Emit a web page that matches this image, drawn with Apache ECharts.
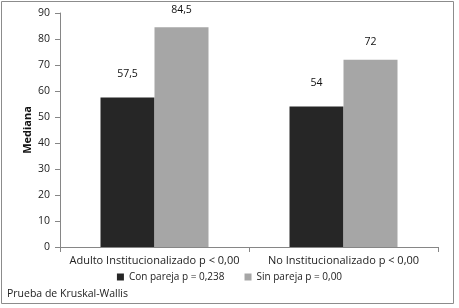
<!DOCTYPE html>
<html>
<head>
<meta charset="utf-8">
<script src="https://cdn.jsdelivr.net/npm/echarts@6/dist/echarts.min.js"></script>
<style>
  html, body { margin: 0; padding: 0; background: #fff; }
  #barchart { width: 459px; height: 308px; }
</style>
</head>
<body>
<div id="barchart"></div>
<script>
var categories = ['Adulto Institucionalizado p < 0,00', 'No Institucionalizado p < 0,00'];
var conPareja = [57.5, 54];
var sinPareja = [84.5, 72];
var seriesNames = ['Con pareja p = 0,238', 'Sin pareja p = 0,00'];

var myChart = echarts.init(document.getElementById('barchart'));

var font = 'Open Sans';

function comma(p) {
    return String(p.value).replace('.', ',');
}

var option = {
    backgroundColor: '#fff',
    animation: false,
    textStyle: { fontFamily: font },
    graphic: [{
        type: 'rect',
        shape: { x: 1.5, y: 1.5, width: 452, height: 302 },
        style: { fill: 'none', stroke: '#8c8c8c', lineWidth: 1 }
    }, {
        type: 'text',
        left: 7,
        top: 289,
        style: { text: 'Prueba de Kruskal-Wallis', font: '10.5px "Open Sans"', fill: '#222' }
    }],
    legend: {
        data: seriesNames,
        top: 267,
        left: 'center',
        itemWidth: 7,
        itemHeight: 7,
        itemGap: 20,
        icon: 'rect',
        textStyle: { fontFamily: font, fontSize: 10, color: '#222' }
    },
    grid: { left: 60, right: 21, top: 13, bottom: 61 },
    xAxis: [{
        type: 'category',
        data: categories,
        axisLine: { lineStyle: { color: '#868686' } },
        axisTick: { show: true, alignWithLabel: false, length: 5, lineStyle: { color: '#868686' } },
        axisLabel: { interval: 0, fontFamily: font, fontSize: 11, color: '#222', margin: 8 }
    }],
    yAxis: [{
        type: 'value',
        min: 0,
        max: 90,
        interval: 10,
        name: 'Mediana',
        nameLocation: 'middle',
        nameGap: 27,
        nameMoveOverlap: false,
        nameTextStyle: { fontFamily: font, fontSize: 11, fontWeight: 'bold', color: '#111' },
        axisLine: { show: true, lineStyle: { color: '#868686' } },
        axisTick: { show: true, length: 5, lineStyle: { color: '#868686' } },
        axisLabel: { fontFamily: font, fontSize: 10.5, color: '#222', margin: 10 },
        splitLine: { show: false }
    }],
    series: [{
        name: seriesNames[0],
        type: 'bar',
        data: conPareja,
        barWidth: 54,
        barGap: '0%',
        itemStyle: { color: '#262626' },
        label: { show: true, position: 'top', distance: 18, formatter: comma, fontFamily: font, fontSize: 10.5, color: '#111' }
    }, {
        name: seriesNames[1],
        type: 'bar',
        data: sinPareja,
        barWidth: 54,
        barGap: '0%',
        itemStyle: { color: '#a6a6a6' },
        label: { show: true, position: 'top', distance: 12, formatter: comma, fontFamily: font, fontSize: 10.5, color: '#111' }
    }]
};

myChart.setOption(option);
</script>
</body>
</html>
